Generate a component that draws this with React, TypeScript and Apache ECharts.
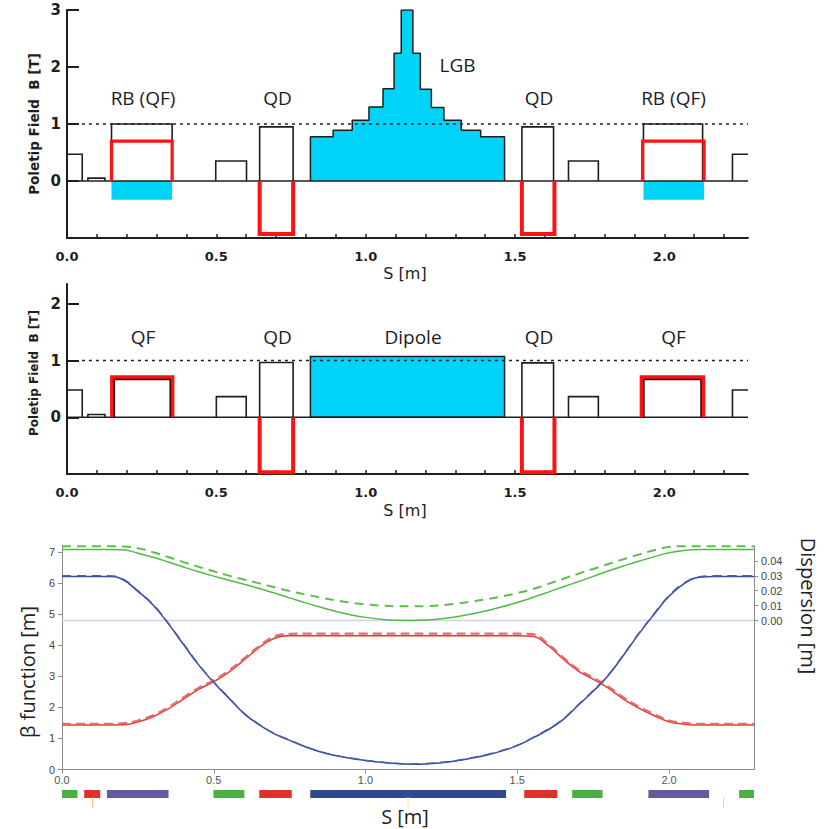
import React, { useEffect, useRef } from "react";
import * as echarts from "echarts";

// ---------- shared axis data ----------
const S_MAX = 2.28;
const X_LABELS = [0, 0.5, 1.0, 1.5, 2.0];
const X_MINOR_TICKS = [0, 0.1, 0.2, 0.3, 0.4, 0.5, 0.6, 0.7, 0.8, 0.9, 1.0, 1.1, 1.2, 1.3, 1.4, 1.5, 1.6, 1.7, 1.8, 1.9, 2.0, 2.1, 2.2];
const FIELD_TICKS_TOP = [0, 1, 2, 3];
const FIELD_TICKS_MID = [0, 1, 2];
const BETA_TICKS = [0, 1, 2, 3, 4, 5, 6, 7];
const DISP_TICKS = [0, 0.01, 0.02, 0.03, 0.04];
const REF_FIELD_LINE = [[0.05, 1], [S_MAX, 1]];
const ZERO_LINE = [[0, 0], [S_MAX, 0]];

// ---------- top panel (LGB lattice): [s start, s end, field] ----------
const TOP_MAGNETS = [
  [0.0, 0.051, 0.47], [0.07, 0.127, 0.05], [0.149, 0.352, 1.0], [0.498, 0.601, 0.35],
  [0.645, 0.757, 0.95], [1.523, 1.629, 0.95], [1.679, 1.779, 0.35], [1.93, 2.128, 1.0], [2.228, 2.4, 0.47],
];
const TOP_QF_FIELD = [[0.149, 0.352, 0.7], [1.927, 2.133, 0.7]];
const TOP_QD_FIELD = [[0.645, 0.757, -0.93], [1.523, 1.632, -0.93]];
const TOP_RB_DIPOLE = [[0.149, 0.352, -0.33], [1.93, 2.133, -0.33]];
const LGB_EDGES = [0.815, 0.891, 0.955, 1.011, 1.058, 1.095, 1.119, 1.158, 1.183, 1.22, 1.262, 1.32, 1.385, 1.465];
const LGB_FIELD = [0.775, 0.89, 1.065, 1.3, 1.62, 2.24, 3.0, 2.24, 1.61, 1.29, 1.065, 0.89, 0.775];

// ---------- middle panel (conventional dipole) ----------
const MID_MAGNETS = [
  [0.0, 0.051, 0.48], [0.07, 0.127, 0.05], [0.5, 0.6, 0.365], [0.645, 0.757, 0.965],
  [1.523, 1.629, 0.96], [1.679, 1.779, 0.365], [2.228, 2.4, 0.48],
];
const MID_QF_FIELD = [[0.151, 0.353, 0.705], [1.924, 2.13, 0.705]];
const MID_QD_FIELD = [[0.645, 0.757, -0.97], [1.523, 1.632, -0.97]];
const MID_DIPOLE = [[0.815, 1.465, 1.07]];

// ---------- bottom panel (optics) ----------
const S_OPT = [0, 0.05, 0.1, 0.15, 0.2, 0.25, 0.3, 0.35, 0.4, 0.45, 0.5, 0.55, 0.6, 0.65, 0.7, 0.75, 0.8, 0.85, 0.9, 0.95,
  1.0, 1.05, 1.1, 1.15, 1.2, 1.25, 1.3, 1.35, 1.4, 1.45, 1.5, 1.55, 1.6, 1.65, 1.7, 1.75, 1.8, 1.85, 1.9, 1.95,
  2.0, 2.05, 2.1, 2.15, 2.2, 2.25, 2.28];
const BETA_X = [6.22, 6.22, 6.22, 6.22, 6.12, 5.74, 5.3, 4.7, 4.03, 3.37, 2.8, 2.3, 1.8, 1.44, 1.15, 0.94, 0.74, 0.57, 0.45, 0.36,
  0.29, 0.23, 0.19, 0.17, 0.18, 0.22, 0.28, 0.37, 0.47, 0.6, 0.77, 1.01, 1.27, 1.6, 2.06, 2.52, 3.03, 3.68, 4.36, 4.99,
  5.58, 5.99, 6.19, 6.22, 6.22, 6.22, 6.22];
const BETA_X_ALT = [6.24, 6.24, 6.24, 6.24, 6.14, 5.76, 5.32, 4.72, 4.05, 3.39, 2.82, 2.31, 1.81, 1.45, 1.16, 0.95, 0.75, 0.58, 0.46, 0.37,
  0.3, 0.24, 0.2, 0.18, 0.19, 0.23, 0.29, 0.38, 0.48, 0.61, 0.78, 1.02, 1.29, 1.62, 2.08, 2.54, 3.05, 3.7, 4.38, 5.01,
  5.6, 6.01, 6.21, 6.24, 6.24, 6.24, 6.24];
const BETA_Y = [1.43, 1.43, 1.43, 1.43, 1.44, 1.53, 1.7, 1.95, 2.27, 2.58, 2.83, 3.14, 3.53, 3.93, 4.23, 4.31, 4.31, 4.31, 4.31, 4.31,
  4.31, 4.31, 4.31, 4.31, 4.31, 4.31, 4.31, 4.31, 4.31, 4.31, 4.31, 4.29, 4.01, 3.57, 3.18, 2.91, 2.62, 2.27, 1.98, 1.74,
  1.54, 1.46, 1.43, 1.43, 1.43, 1.43, 1.43];
const BETA_Y_ALT = [1.47, 1.47, 1.47, 1.47, 1.49, 1.58, 1.75, 2.0, 2.32, 2.63, 2.88, 3.19, 3.58, 3.98, 4.29, 4.37, 4.38, 4.38, 4.38, 4.38,
  4.38, 4.38, 4.38, 4.38, 4.38, 4.38, 4.38, 4.38, 4.38, 4.38, 4.38, 4.36, 4.06, 3.62, 3.23, 2.96, 2.67, 2.32, 2.03, 1.79,
  1.58, 1.5, 1.47, 1.47, 1.47, 1.47, 1.47];
const DISP = [0.0476, 0.0476, 0.0476, 0.0476, 0.0474, 0.0452, 0.0425, 0.0393, 0.0359, 0.0327, 0.0298, 0.027, 0.0243, 0.0215, 0.0184, 0.0152, 0.012, 0.009, 0.0062, 0.0039,
  0.0021, 0.0008, 0.0001, 0.0, 0.0003, 0.0011, 0.0025, 0.0043, 0.0066, 0.0092, 0.0121, 0.0154, 0.0189, 0.0225, 0.026, 0.0296, 0.0332, 0.0366, 0.0398, 0.0427,
  0.0454, 0.047, 0.0476, 0.0476, 0.0476, 0.0476, 0.0476];
const DISP_ALT = [0.0499, 0.0499, 0.0499, 0.0499, 0.0497, 0.0485, 0.0458, 0.0426, 0.0392, 0.036, 0.033, 0.0301, 0.0275, 0.0249, 0.0223, 0.0198, 0.0176, 0.0155, 0.0136, 0.012,
  0.0108, 0.01, 0.0096, 0.0095, 0.0097, 0.0103, 0.0113, 0.0127, 0.0143, 0.0162, 0.0184, 0.021, 0.0244, 0.0279, 0.0313, 0.0346, 0.0379, 0.0411, 0.0442, 0.0471,
  0.0493, 0.0499, 0.0499, 0.0499, 0.0499, 0.0499, 0.0499];

// ---------- element bar: [s start, s end, kind] ----------
const ELEM_KINDS = ["sext", "quadD", "quadF", "dipole"];
const ELEMENTS = [
  [0.0, 0.051, 0], [0.073, 0.126, 1], [0.148, 0.351, 2], [0.499, 0.601, 0], [0.65, 0.757, 1],
  [0.818, 1.463, 3], [1.523, 1.632, 1], [1.681, 1.781, 0], [1.932, 2.132, 2], [2.231, 2.28, 0],
];
const ELEM_MARKS = [[0.101, 0], [1.14, 1], [2.18, 2]];

const COL = {
  ink: "#1e1e1e",
  cyan: "#00d3f8",
  red: "#ff1212",
  green: "#56b848",
  greenDash: "#5fbd4f",
  blue: "#35499c",
  blueDash: "#4a5cab",
  redLine: "#e2393b",
  redDash: "#ea6a68",
  zero: "#d0d1e6",
  axis: "#8c8c8c",
};
const ELEM_COLORS = ["#4caf43", "#e0302c", "#675a9c", "#2f4a8c"];
const MARK_COLORS = ["#e9b48a", "#f3e9a0", "#c4dcc4"];

function outlineRender(color: string, width: number, inset = 0) {
  return (_p: any, api: any) => {
    const s0 = api.value(0);
    const s1raw = api.value(1);
    const h = api.value(2);
    const open = s1raw > S_MAX;
    const s1 = Math.min(s1raw, S_MAX);
    const a = api.coord([s0, 0]);
    const b = api.coord([s1, h]);
    const sign = h >= 0 ? 1 : -1;
    const pts: number[][] = [
      [a[0] + inset, a[1]],
      [a[0] + inset, b[1] + inset * sign],
      [b[0] - inset, b[1] + inset * sign],
    ];
    if (!open) pts.push([b[0] - inset, a[1]]);
    return {
      type: "polyline",
      shape: { points: pts },
      style: { stroke: color, lineWidth: width, fill: null, lineJoin: "miter" },
    };
  };
}

function fillRender(fill: string, stroke?: string, lw = 0) {
  return (_p: any, api: any) => {
    const a = api.coord([api.value(0), 0]);
    const b = api.coord([api.value(1), api.value(2)]);
    return {
      type: "rect",
      shape: { x: a[0], y: Math.min(a[1], b[1]), width: b[0] - a[0], height: Math.abs(b[1] - a[1]) },
      style: { fill, stroke: stroke || null, lineWidth: lw },
    };
  };
}

function custom(gi: number, data: any[], renderItem: any, z = 2) {
  return { type: "custom", xAxisIndex: gi, yAxisIndex: gi, data, renderItem, silent: true, clip: false, z, encode: { x: [0, 1], y: 2 } };
}

function plainLine(xi: number, yi: number, data: any[], color: string, width: number, type: any = "solid", z = 2) {
  return {
    type: "line", xAxisIndex: xi, yAxisIndex: yi, data, symbol: "none", silent: true, z,
    lineStyle: { color, width, type }, animation: false,
  };
}

function topXAxis(gi: number) {
  return {
    type: "value", gridIndex: gi, min: 0, max: S_MAX, position: "bottom",
    axisLine: { show: true, onZero: false, lineStyle: { color: COL.ink, width: 2 } },
    axisTick: { show: true, inside: true, length: 4, customValues: X_MINOR_TICKS, lineStyle: { color: COL.ink, width: 1.5 } },
    axisLabel: {
      customValues: X_LABELS, formatter: (v: number) => v.toFixed(1), color: COL.ink,
      fontFamily: "DejaVu Sans", fontWeight: "bold", fontSize: 13, margin: 12,
    },
    splitLine: { show: false },
  };
}

function fieldYAxis(gi: number, max: number, ticks: number[]) {
  return {
    type: "value", gridIndex: gi, min: -1, max, interval: 1,
    axisLine: { show: true, onZero: false, lineStyle: { color: COL.ink, width: 2 } },
    axisTick: { show: true, inside: true, length: 12, customValues: ticks, lineStyle: { color: COL.ink, width: 2 } },
    axisLabel: { customValues: ticks, color: COL.ink, fontFamily: "DejaVu Sans", fontWeight: "bold", fontSize: 15, margin: 6 },
    splitLine: { show: false },
  };
}

function buildLgbPoints() {
  const pts: number[][] = [[LGB_EDGES[0], 0]];
  LGB_FIELD.forEach((b, i) => {
    pts.push([LGB_EDGES[i], b], [LGB_EDGES[i + 1], b]);
  });
  pts.push([LGB_EDGES[LGB_EDGES.length - 1], 0]);
  return pts;
}

const zip = (xs: number[], ys: number[]) => xs.map((x, i) => [x, ys[i]]);

function labelText(text: string, x: number, y: number, size = 19) {
  return {
    type: "text", x, y,
    style: { text, fill: "#1c1c28", font: `${size}px "Open Sans"`, align: "center", verticalAlign: "middle" },
  };
}

export default function App() {
  const ref = useRef<HTMLDivElement>(null);
  useEffect(() => {
    if (!ref.current) return;
    const chart = echarts.init(ref.current, null, { renderer: "svg" });
    const optLine = (yi: number, ys: number[], color: string, width: number, type: any, z: number) => ({
      type: "line", xAxisIndex: 2, yAxisIndex: yi, data: zip(S_OPT, ys), symbol: "none", silent: true, z,
      smooth: 0.45, clip: false,
      lineStyle: { color, width, type },
    });

    const option: any = {
      animation: false,
      grid: [
        { left: 67, top: 10, width: 681, height: 228 },
        { left: 67, top: 284, width: 681, height: 190 },
        { left: 62, top: 546, width: 692, height: 223.5 },
        { left: 62, top: 790, width: 692, height: 18 },
      ],
      xAxis: [
        topXAxis(0),
        topXAxis(1),
        {
          type: "value", gridIndex: 2, min: 0, max: S_MAX,
          axisLine: { show: true, onZero: false, lineStyle: { color: COL.axis, width: 1 } },
          axisTick: { show: true, length: 4, customValues: X_LABELS, lineStyle: { color: COL.axis } },
          axisLabel: { customValues: X_LABELS, formatter: (v: number) => v.toFixed(1), color: "#555", fontFamily: "Liberation Sans", fontSize: 11, margin: 5 },
          splitLine: { show: false },
        },
        { type: "value", gridIndex: 3, min: 0, max: S_MAX, show: false },
      ],
      yAxis: [
        fieldYAxis(0, 3, FIELD_TICKS_TOP),
        fieldYAxis(1, 2.35, FIELD_TICKS_MID),
        {
          type: "value", gridIndex: 2, min: 0, max: 7.2, position: "left",
          axisLine: { show: true, onZero: false, lineStyle: { color: COL.axis, width: 1 } },
          axisTick: { show: true, length: 4, customValues: BETA_TICKS, lineStyle: { color: COL.axis } },
          axisLabel: { customValues: BETA_TICKS, color: "#444", fontFamily: "Liberation Sans", fontSize: 11, margin: 7 },
          splitLine: { show: false },
        },
        {
          type: "value", gridIndex: 2, min: -0.1, max: 0.05, position: "right",
          axisLine: { show: true, onZero: false, lineStyle: { color: COL.axis, width: 1 } },
          axisTick: { show: true, length: 4, customValues: DISP_TICKS, lineStyle: { color: COL.axis } },
          axisLabel: { customValues: DISP_TICKS, formatter: (v: number) => v.toFixed(2), color: "#444", fontFamily: "Liberation Sans", fontSize: 11, margin: 7 },
          splitLine: { show: false },
        },
        { type: "value", gridIndex: 3, min: -1.25, max: 1, show: false },
      ],
      series: [
        // ----- top panel -----
        custom(0, TOP_RB_DIPOLE, fillRender(COL.cyan), 1),
        {
          type: "line", xAxisIndex: 0, yAxisIndex: 0, data: buildLgbPoints(), symbol: "none", silent: true, z: 2,
          lineStyle: { color: COL.ink, width: 1.5 }, areaStyle: { color: COL.cyan, opacity: 1, origin: 0 },
        },
        plainLine(0, 0, ZERO_LINE, COL.ink, 1.5, "solid", 3),
        plainLine(0, 0, REF_FIELD_LINE, COL.ink, 1.5, [3, 4], 3),
        custom(0, TOP_MAGNETS, outlineRender(COL.ink, 1.6), 4),
        custom(0, TOP_QF_FIELD, outlineRender(COL.red, 3.2), 5),
        custom(0, TOP_QD_FIELD, outlineRender(COL.red, 4), 5),
        // ----- middle panel -----
        custom(1, MID_DIPOLE, fillRender(COL.cyan, COL.ink, 1.5), 2),
        plainLine(1, 1, ZERO_LINE, COL.ink, 1.5, "solid", 3),
        plainLine(1, 1, REF_FIELD_LINE, COL.ink, 1.5, [3, 4], 3),
        custom(1, MID_MAGNETS, outlineRender(COL.ink, 1.6), 4),
        custom(1, MID_QF_FIELD, outlineRender(COL.red, 4), 5),
        custom(1, MID_QF_FIELD, outlineRender("#3a0a0a", 1.6, 2.2), 6),
        custom(1, MID_QD_FIELD, outlineRender(COL.red, 4), 5),
        // ----- bottom panel -----
        plainLine(2, 3, ZERO_LINE, COL.zero, 1.5, "solid", 1),
        optLine(3, DISP, COL.green, 1.5, "solid", 3),
        optLine(3, DISP_ALT, COL.greenDash, 2, [9, 6], 3),
        optLine(2, BETA_Y, COL.redLine, 1.5, "solid", 3),
        optLine(2, BETA_Y_ALT, COL.redDash, 2.2, [9, 5], 4),
        optLine(2, BETA_X, COL.blue, 1.5, "solid", 3),
        optLine(2, BETA_X_ALT, COL.blueDash, 1.5, [9, 6], 4),
        // ----- element bar -----
        {
          type: "custom", xAxisIndex: 3, yAxisIndex: 4, data: ELEMENTS, silent: true, clip: false,
          renderItem: (_p: any, api: any) => {
            const a = api.coord([api.value(0), 0]);
            const b = api.coord([api.value(1), 1]);
            return {
              type: "rect",
              shape: { x: a[0], y: b[1], width: b[0] - a[0], height: a[1] - b[1] },
              style: { fill: ELEM_COLORS[api.value(2)] },
            };
          },
        },
        {
          type: "custom", xAxisIndex: 3, yAxisIndex: 4, data: ELEM_MARKS, silent: true, clip: false,
          renderItem: (_p: any, api: any) => {
            const a = api.coord([api.value(0), 0.1]);
            const b = api.coord([api.value(0), -1.2]);
            return {
              type: "line",
              shape: { x1: a[0], y1: a[1], x2: b[0], y2: b[1] },
              style: { stroke: MARK_COLORS[api.value(1)], lineWidth: 1 },
            };
          },
        },
      ],
      graphic: [
        // top panel texts
        labelText("RB (QF)", 143, 98),
        labelText("QD", 277.5, 98),
        labelText("LGB", 457.5, 65),
        labelText("QD", 539, 98),
        labelText("RB (QF)", 673.5, 98),
        {
          type: "text", x: 405, y: 273,
          style: { text: "S [m]", fill: COL.ink, font: '16px "DejaVu Sans"', align: "center", verticalAlign: "middle" },
        },
        {
          type: "text", x: 34, y: 124, rotation: Math.PI / 2,
          style: { text: "Poletip Field  B [T]", fill: COL.ink, font: 'bold 13.5px "DejaVu Sans"', align: "center", verticalAlign: "middle" },
        },
        // middle panel texts
        labelText("QF", 143, 337),
        labelText("QD", 277.5, 337),
        labelText("Dipole", 413, 337),
        labelText("QD", 539, 337),
        labelText("QF", 673.5, 337),
        {
          type: "text", x: 405, y: 510,
          style: { text: "S [m]", fill: COL.ink, font: '16px "DejaVu Sans"', align: "center", verticalAlign: "middle" },
        },
        {
          type: "text", x: 34, y: 373, rotation: Math.PI / 2,
          style: { text: "Poletip Field  B [T]", fill: COL.ink, font: 'bold 12px "DejaVu Sans"', align: "center", verticalAlign: "middle" },
        },
        // bottom panel texts
        {
          type: "text", x: 405, y: 816,
          style: { text: "S [m]", fill: "#222", font: '20px "Open Sans"', align: "center", verticalAlign: "middle" },
        },
        {
          type: "text", x: 27, y: 672, rotation: Math.PI / 2,
          style: { text: "β function [m]", fill: "#222", font: '20px "Open Sans"', align: "center", verticalAlign: "middle" },
        },
        {
          type: "text", x: 808, y: 606, rotation: -Math.PI / 2,
          style: { text: "Dispersion [m]", fill: "#222", font: '20px "Open Sans"', align: "center", verticalAlign: "middle" },
        },
      ],
    };
    chart.setOption(option);
    return () => chart.dispose();
  }, []);
  return <div ref={ref} style={{ position: "fixed", left: 0, top: 0, width: 825, height: 829, background: "#fff" }} />;
}
